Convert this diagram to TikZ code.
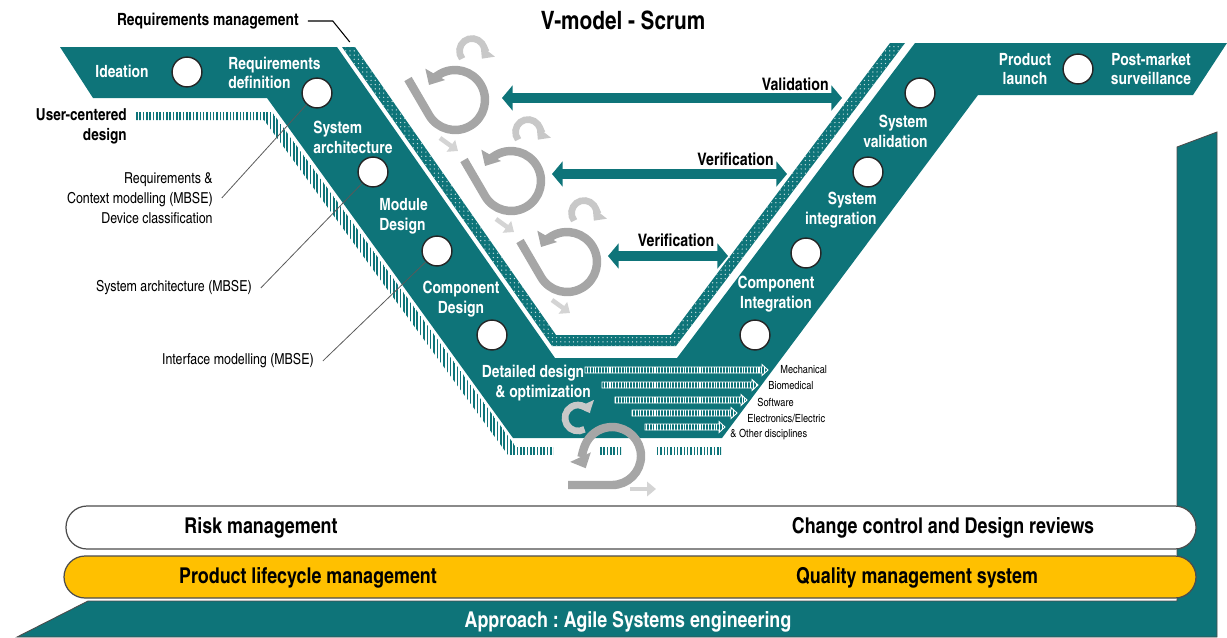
\documentclass[tikz,border=0pt]{standalone}
\usepackage{fontspec}
\setmainfont{texgyreheroscn}[Extension=.otf, UprightFont=*-regular, BoldFont=*-bold]
\frenchspacing
\usetikzlibrary{arrows.meta}
\usetikzlibrary{patterns.meta}
\usetikzlibrary{calc}
\definecolor{vteal}{HTML}{0E7479}
\definecolor{qyellow}{HTML}{FFC000}
\definecolor{loopgray}{HTML}{A6A6A6}
\definecolor{looplight}{HTML}{C8C8C8}
\definecolor{nextgray}{HTML}{D4D4D4}
\tikzset{
  stage/.style= {text=white, font=\bfseries\fontsize{9.6}{11.3}\selectfont, inner sep=0},
  gate/.style= {draw=black!85, fill=white, circle, line width=0.8pt, minimum size=17pt, inner sep=0},
  note/.style= {font=\fontsize{8.6}{11.3}\selectfont, inner sep=0, align=right},
  leader/.style= {draw=black!65, line width=0.45pt},
  vvarrow/.style= {draw=vteal, line width=5.6pt, {Triangle[length=6pt,width=14pt]}-{Triangle[length=6pt,width=14pt]}},
  vvlabel/.style= {font=\bfseries\fontsize{9.8}{11}\selectfont, inner sep=0},
  bigloop/.style= {draw=loopgray, line width=4.8pt, -{Triangle[length=7pt,width=12.5pt]}},
  smallloop/.style= {draw=looplight, line width=3.8pt, -{Triangle[length=5.5pt,width=10pt]}},
  nextstep/.style= {draw=nextgray, line width=2.6pt, -{Triangle[length=5pt,width=8pt]}},
  band/.style= {draw=black!70, line width=0.7pt, rounded corners=12pt},
  bandtext/.style= {font=\bfseries\fontsize{12.4}{14}\selectfont, inner sep=0},
  discarrow/.style= {draw=white, line width=0.5pt, preaction={fill=vteal}, pattern={Lines[angle=90,distance=1.6pt,line width=0.6pt]}, pattern color=white},
  disc/.style= {font=\fontsize{6.4}{7}\selectfont, inner sep=0, anchor=west},
}

\begin{document}
\begin{tikzpicture}[x=0.02cm, y=-0.02cm]
  \useasboundingbox (0,0) rectangle (1227,637);

  % base of the V and the side column
  \path[fill=vteal, draw=black!70, line width=0.5pt] (17,637) -- (88,601) -- (1177,601) -- (1177,147) -- (1217,132) -- (1217,637) -- cycle;
  \fill[vteal] (60,47) -- (337,47) -- (555,358) -- (677,358) -- (915,43) -- (1227,43) -- (1193,95) -- (978,95) -- (722,438) -- (513,438) -- (267,98) -- (93,98) -- cycle;
  \path[preaction={fill=vteal}, pattern={Dots[distance=2.4pt,radius=0.4pt]}, pattern color=white!75!vteal]
    (342,47) -- (552,346) -- (676,346) -- (905,43) -- (890,43) -- (671,335) -- (556,335) -- (355,47) -- cycle;
  \path[pattern={Lines[angle=90,distance=1.9pt,line width=0.9pt]}, pattern color=vteal]
    (135,112) -- (272,112) -- (516,447) -- (553,447) -- (553,455) -- (508,455) -- (264,120) -- (135,120) -- cycle
    (598,447) rectangle (621,455) (657,447) rectangle (721,455);

  \node[font=\bfseries\fontsize{14.4}{16}\selectfont] (title) at (623,20) {V-model - Scrum};
  \node[font=\bfseries\fontsize{9.6}{11}\selectfont, anchor=east, inner sep=0] (reqmgmt) at (299,21) {Requirements management};
  \node[note, font=\bfseries\fontsize{9.4}{11.3}\selectfont, anchor=east] (usercd) at (127,126) {User-centered\\design};
  \node[note, anchor=east] (reqctx) at (213,198) {Requirements \&\\Context modelling (MBSE)\\Device classification};
  \node[note, anchor=east] (archmbse) at (252,288) {System architecture (MBSE)};
  \node[note, anchor=east] (ifmbse) at (314,361) {Interface modelling (MBSE)};

  \node[gate] (c-idea) at (187,72) {};
  \node[gate] (c-reqdef) at (317,93) {};
  \node[gate] (c-arch) at (373,172) {};
  \node[gate] (c-module) at (437,251) {};
  \node[gate] (c-comp) at (492,335) {};
  \node[gate] (c-compint) at (755,335) {};
  \node[gate] (c-sysint) at (806,253) {};
  \node[gate] (c-sysval) at (868,172) {};
  \node[gate] (c-release) at (920,93) {};
  \node[gate] (c-launch) at (1078,69) {};

  \draw[leader, draw=black, line width=0.6pt] ([xshift=5pt]reqmgmt.east) -- ++(25,0) -- ++(17,21);
  \draw[leader] ([xshift=5pt]reqctx.east) -- (c-reqdef);
  \draw[leader] ([xshift=5pt]archmbse.east) -- (c-arch);
  \draw[leader] ([xshift=5pt]ifmbse.east) -- (c-module);

  \node[stage] (ideation) at (122,71) {Ideation};
  \node[stage, anchor=west, align=left] (reqdef) at (228,73) {Requirements\\definition};
  \node[stage, anchor=west, align=left] (sysarch) at (313,137) {System\\architecture};
  \node[stage, anchor=west, align=left] (module) at (379,216) {Module\\Design};
  \node[stage, align=center] (compdes) at (461,299) {Component\\Design};
  \node[stage, align=center] (detailed) at (533,383) {Detailed design\\\hspace*{1.2em}\& optimization};
  \node[stage, align=center] (compint) at (776,294) {Component\\Integration};
  \node[stage, anchor=east, align=right] (sysint) at (877,210) {System\\integration};
  \node[stage, anchor=east, align=right] (sysval) at (928,131) {System\\validation};
  \node[stage, align=center] (launch) at (1025,69) {Product\\launch};
  \node[stage, align=center] (postmarket) at (1151,69) {Post-market\\surveillance};

  % validation / verification pairs
  \coordinate (val-l) at (502,98);
  \coordinate (val-r) at (842,98);
  \coordinate (ver1-l) at (552,174);
  \coordinate (ver1-r) at (787,174);
  \coordinate (ver2-l) at (608,256);
  \coordinate (ver2-r) at (728,256);
  \draw[vvarrow] (val-l) -- (val-r);
  \draw[vvarrow] (ver1-l) -- (ver1-r);
  \draw[vvarrow] (ver2-l) -- (ver2-r);
  \node[vvlabel, anchor=east] (val) at (829,84) {Validation};
  \node[vvlabel, anchor=east] (ver1) at (774,159) {Verification};
  \node[vvlabel] (ver2) at (676,240) {Verification};

  % sprints
  \foreach \cx/\cy in {455/100, 511/181, 567/262} {
    \draw[bigloop] (\cx-47,\cy-21) -- ($(\cx,\cy)+(150:30)$) arc[start angle=150, end angle=-150, radius=30];
    \draw[smallloop] ($(\cx+17,\cy-49)+(142:12.5)$) arc[start angle=142, end angle=398, radius=12.5];
    \draw[nextstep] (\cx-15,\cy+38) -- (\cx+3,\cy+51);
  }
  \draw[bigloop] (568,485) -- (612,485) arc[start angle=90, end angle=-205, radius=29];
  \draw[smallloop] ($(578,418)+(60:13)$) arc[start angle=60, end angle=335, radius=13];
  \draw[nextstep] (630,489) -- (656,489);

  % disciplines
  \foreach \x/\xe/\y/\lx/\ly/\lbl [count=\i] in {585/768/370/780/370/Mechanical, 602/758/385/768/386/Biomedical,
      615/747/400/757/402/Software, 632/737/413/747/418/{Electronics/Electric}, 645/725/427/730/435/{\& Other disciplines}} {
    \path[discarrow] (\x,\y-3) -- (\xe-6,\y-3) -- (\xe-6,\y-5.5) -- (\xe,\y) -- (\xe-6,\y+5.5) -- (\xe-6,\y+3) -- (\x,\y+3) -- cycle;
    \node[disc] (disc-\i) at (\lx,\ly) {\lbl};
  }

  \draw[band, fill=white] (66,506) rectangle (1196,549);
  \draw[band, fill=qyellow] (64,556) rectangle (1196,598);
  \node[bandtext] (risk) at (261,528) {Risk management};
  \node[bandtext] (change) at (943,528) {Change control and Design reviews};
  \node[bandtext] (plm) at (308,578) {Product lifecycle management};
  \node[bandtext] (qms) at (917,578) {Quality management system};
  \node[bandtext, text=white] (approach) at (628,622) {Approach : Agile Systems engineering};
\end{tikzpicture}
\end{document}
